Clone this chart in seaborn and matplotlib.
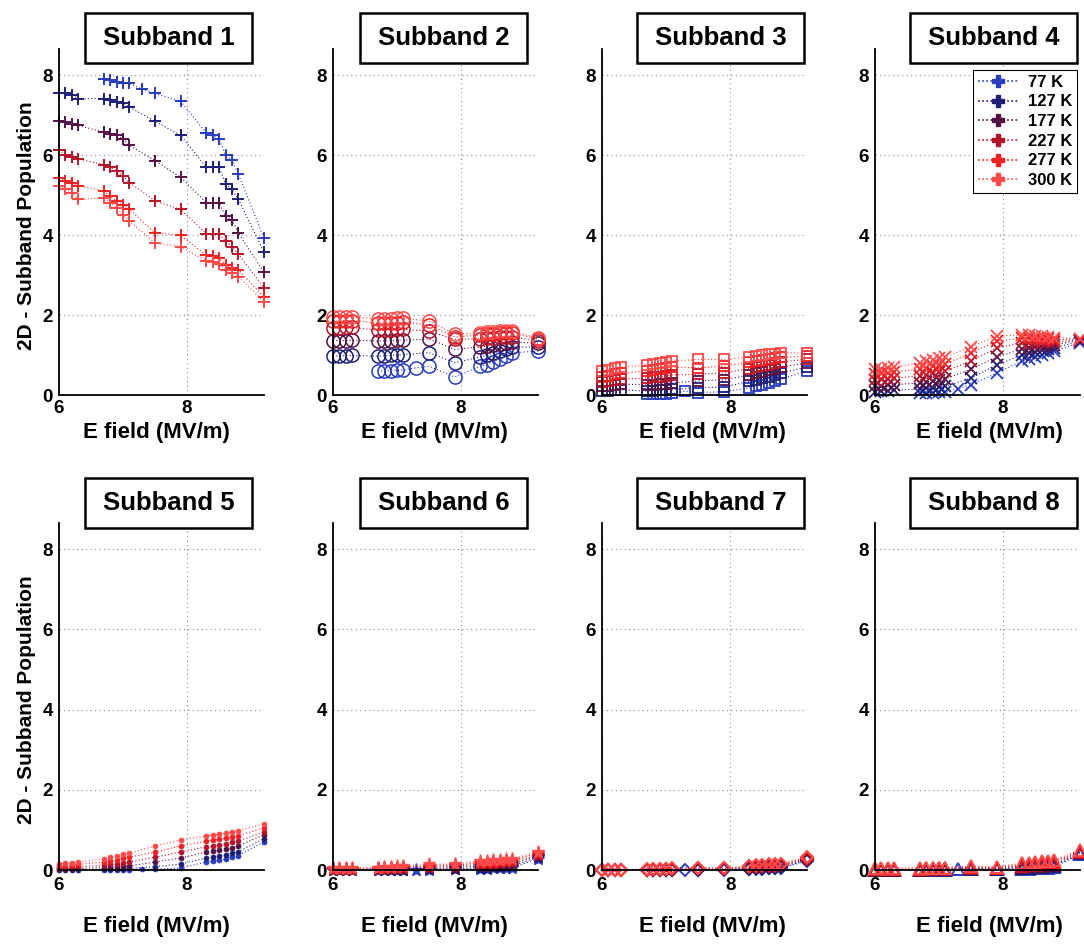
import numpy as np
import matplotlib
matplotlib.use("Agg")
import matplotlib.pyplot as plt
from matplotlib.lines import Line2D
from matplotlib.patches import Rectangle
import seaborn as sns

nan = np.nan

# Applied electric field (MV/m)
e_field = [6.0, 6.1, 6.2, 6.3, 6.7, 6.8, 6.9, 7.0, 7.1, 7.3, 7.5, 7.9,
           8.3, 8.4, 8.5, 8.6, 8.7, 8.8, 9.2]

temperatures = ["77 K", "127 K", "177 K", "227 K", "277 K", "300 K"]
temp_colors = ["#2a3cc0", "#1f1f78", "#521244", "#b5132a", "#f41f22", "#ff4a4a"]

# Population of each subband, one row per temperature (77 K ... 300 K)
subband1 = [
    [nan, nan, nan, nan, 7.89, 7.87, 7.83, 7.81, 7.79, 7.64, 7.54, 7.34, 6.55, 6.49, 6.40, 6.00, 5.87, 5.52, 3.92],
    [7.55, 7.54, 7.50, 7.41, 7.41, 7.37, 7.33, 7.29, 7.20, nan, 6.84, 6.49, 5.69, 5.69, 5.69, 5.27, 5.14, 4.89, 3.57],
    [6.84, 6.82, 6.78, 6.74, 6.57, 6.53, 6.49, 6.40, 6.24, nan, 5.86, 5.44, 4.81, 4.81, 4.80, 4.47, 4.38, 4.05, 3.07],
    [6.13, 6.00, 5.94, 5.90, 5.76, 5.69, 5.60, 5.48, 5.31, nan, 4.85, 4.64, 4.03, 4.03, 4.02, 3.84, 3.71, 3.52, 2.68],
    [5.42, 5.35, 5.31, 5.23, 5.10, 4.97, 4.85, 4.76, 4.64, nan, 4.05, 3.99, 3.49, 3.47, 3.42, 3.25, 3.17, 3.13, 2.45],
    [5.23, 5.14, 5.06, 4.89, 4.93, 4.81, 4.68, 4.51, 4.35, nan, 3.80, 3.71, 3.35, 3.32, 3.27, 3.13, 3.04, 2.96, 2.33],
]
subband2 = [
    [nan, nan, nan, nan, 0.60, 0.60, 0.61, 0.62, 0.63, 0.68, 0.72, 0.45, 0.72, 0.76, 0.82, 0.90, 0.98, 1.05, 1.10],
    [0.97, 0.98, 0.98, 0.99, 0.97, 0.98, 0.99, 1.00, 1.01, nan, 1.06, 0.81, 0.95, 1.00, 1.05, 1.10, 1.15, 1.20, 1.20],
    [1.35, 1.36, 1.36, 1.37, 1.35, 1.36, 1.36, 1.37, 1.37, nan, 1.40, 1.14, 1.20, 1.22, 1.25, 1.28, 1.30, 1.32, 1.30],
    [1.68, 1.68, 1.69, 1.69, 1.62, 1.63, 1.63, 1.64, 1.64, nan, 1.60, 1.39, 1.40, 1.42, 1.43, 1.45, 1.45, 1.46, 1.35],
    [1.85, 1.85, 1.86, 1.86, 1.80, 1.80, 1.81, 1.81, 1.82, nan, 1.75, 1.45, 1.50, 1.52, 1.53, 1.55, 1.55, 1.55, 1.40],
    [1.95, 1.95, 1.96, 1.96, 1.90, 1.91, 1.91, 1.92, 1.92, nan, 1.85, 1.52, 1.55, 1.57, 1.58, 1.60, 1.60, 1.60, 1.42],
]
subband3 = [
    [nan, nan, nan, nan, 0.02, 0.02, 0.03, 0.03, 0.04, 0.10, 0.06, 0.08, 0.18, 0.22, 0.26, 0.30, 0.35, 0.40, 0.60],
    [0.10, 0.11, 0.12, 0.13, 0.10, 0.11, 0.12, 0.13, 0.14, nan, 0.18, 0.20, 0.34, 0.38, 0.42, 0.46, 0.50, 0.55, 0.70],
    [0.22, 0.23, 0.25, 0.27, 0.25, 0.26, 0.27, 0.28, 0.30, nan, 0.35, 0.38, 0.50, 0.54, 0.58, 0.62, 0.66, 0.70, 0.80],
    [0.33, 0.35, 0.37, 0.40, 0.42, 0.44, 0.46, 0.48, 0.50, nan, 0.52, 0.55, 0.66, 0.70, 0.73, 0.76, 0.79, 0.82, 0.90],
    [0.45, 0.48, 0.52, 0.55, 0.60, 0.63, 0.65, 0.68, 0.70, nan, 0.68, 0.72, 0.82, 0.85, 0.88, 0.90, 0.92, 0.94, 0.98],
    [0.60, 0.63, 0.67, 0.70, 0.75, 0.78, 0.80, 0.83, 0.85, nan, 0.89, 0.89, 0.95, 0.97, 1.00, 1.02, 1.03, 1.05, 1.05],
]
subband4 = [
    [nan, nan, nan, nan, 0.04, 0.05, 0.06, 0.07, 0.08, 0.16, 0.25, 0.55, 0.85, 0.90, 0.95, 1.00, 1.05, 1.10, 1.30],
    [0.08, 0.09, 0.10, 0.12, 0.15, 0.17, 0.18, 0.20, 0.22, nan, 0.42, 0.75, 1.00, 1.04, 1.08, 1.12, 1.15, 1.18, 1.34],
    [0.22, 0.23, 0.24, 0.26, 0.30, 0.33, 0.35, 0.38, 0.40, nan, 0.65, 0.95, 1.15, 1.18, 1.20, 1.22, 1.24, 1.26, 1.36],
    [0.38, 0.39, 0.40, 0.42, 0.48, 0.51, 0.54, 0.57, 0.60, nan, 0.85, 1.18, 1.30, 1.31, 1.31, 1.32, 1.32, 1.32, 1.38],
    [0.52, 0.54, 0.56, 0.58, 0.65, 0.68, 0.72, 0.75, 0.78, nan, 1.05, 1.35, 1.42, 1.42, 1.41, 1.40, 1.39, 1.38, 1.40],
    [0.65, 0.66, 0.68, 0.70, 0.80, 0.84, 0.88, 0.92, 0.95, nan, 1.20, 1.48, 1.50, 1.50, 1.48, 1.47, 1.45, 1.43, 1.41],
]
subband5 = [
    [nan, nan, nan, nan, 0.00, 0.00, 0.01, 0.01, 0.01, 0.02, 0.02, 0.05, 0.20, 0.22, 0.25, 0.28, 0.32, 0.36, 0.70],
    [0.01, 0.01, 0.01, 0.01, 0.02, 0.02, 0.03, 0.03, 0.04, nan, 0.08, 0.15, 0.30, 0.32, 0.35, 0.38, 0.42, 0.46, 0.78],
    [0.03, 0.03, 0.03, 0.04, 0.06, 0.07, 0.08, 0.09, 0.10, nan, 0.20, 0.30, 0.45, 0.47, 0.50, 0.53, 0.56, 0.60, 0.88],
    [0.06, 0.06, 0.07, 0.08, 0.12, 0.14, 0.16, 0.18, 0.20, nan, 0.32, 0.45, 0.58, 0.60, 0.63, 0.66, 0.69, 0.72, 0.95],
    [0.10, 0.11, 0.12, 0.14, 0.20, 0.23, 0.26, 0.29, 0.32, nan, 0.45, 0.60, 0.72, 0.74, 0.77, 0.80, 0.83, 0.86, 1.05],
    [0.15, 0.17, 0.18, 0.20, 0.28, 0.32, 0.35, 0.39, 0.42, nan, 0.60, 0.75, 0.85, 0.87, 0.89, 0.92, 0.95, 0.98, 1.15],
]
subband6 = [
    [nan, nan, nan, nan, 0.00, 0.00, 0.00, 0.00, 0.00, 0.00, 0.01, 0.02, 0.02, 0.03, 0.04, 0.05, 0.05, 0.06, 0.28],
    [0.00, 0.00, 0.00, 0.00, 0.01, 0.01, 0.01, 0.01, 0.01, nan, 0.02, 0.03, 0.05, 0.06, 0.07, 0.08, 0.09, 0.10, 0.32],
    [0.01, 0.01, 0.01, 0.01, 0.02, 0.02, 0.02, 0.02, 0.03, nan, 0.04, 0.06, 0.10, 0.11, 0.12, 0.13, 0.14, 0.15, 0.35],
    [0.02, 0.02, 0.02, 0.02, 0.03, 0.03, 0.04, 0.04, 0.04, nan, 0.07, 0.09, 0.14, 0.15, 0.16, 0.18, 0.19, 0.20, 0.38],
    [0.03, 0.03, 0.03, 0.03, 0.05, 0.05, 0.06, 0.06, 0.07, nan, 0.10, 0.12, 0.18, 0.19, 0.20, 0.22, 0.23, 0.24, 0.42],
    [0.04, 0.04, 0.05, 0.05, 0.06, 0.07, 0.08, 0.09, 0.10, nan, 0.14, 0.15, 0.22, 0.23, 0.25, 0.26, 0.27, 0.28, 0.45],
]
subband7 = [
    [nan, nan, nan, nan, 0.00, 0.00, 0.00, 0.00, 0.00, 0.01, 0.01, 0.01, 0.02, 0.02, 0.03, 0.04, 0.04, 0.05, 0.22],
    [0.00, 0.00, 0.00, 0.00, 0.00, 0.00, 0.00, 0.00, 0.01, nan, 0.01, 0.02, 0.03, 0.04, 0.04, 0.05, 0.06, 0.07, 0.24],
    [0.00, 0.00, 0.00, 0.00, 0.01, 0.01, 0.01, 0.01, 0.01, nan, 0.02, 0.02, 0.05, 0.06, 0.07, 0.08, 0.09, 0.10, 0.26],
    [0.00, 0.00, 0.00, 0.01, 0.01, 0.01, 0.01, 0.02, 0.02, nan, 0.03, 0.03, 0.07, 0.08, 0.09, 0.10, 0.11, 0.12, 0.28],
    [0.00, 0.00, 0.01, 0.01, 0.01, 0.02, 0.02, 0.02, 0.03, nan, 0.04, 0.04, 0.09, 0.10, 0.11, 0.12, 0.13, 0.14, 0.30],
    [0.01, 0.01, 0.01, 0.01, 0.02, 0.02, 0.03, 0.03, 0.04, nan, 0.06, 0.05, 0.11, 0.12, 0.13, 0.14, 0.15, 0.16, 0.32],
]
subband8 = [
    [nan, nan, nan, nan, 0.00, 0.00, 0.00, 0.00, 0.00, 0.02, 0.02, 0.02, 0.02, 0.03, 0.04, 0.05, 0.06, 0.07, 0.40],
    [0.00, 0.00, 0.00, 0.00, 0.01, 0.01, 0.01, 0.01, 0.01, nan, 0.03, 0.03, 0.05, 0.06, 0.07, 0.08, 0.09, 0.10, 0.42],
    [0.01, 0.01, 0.01, 0.01, 0.01, 0.02, 0.02, 0.02, 0.02, nan, 0.04, 0.04, 0.08, 0.09, 0.10, 0.11, 0.12, 0.13, 0.44],
    [0.02, 0.02, 0.02, 0.02, 0.02, 0.03, 0.03, 0.03, 0.03, nan, 0.06, 0.05, 0.11, 0.12, 0.13, 0.14, 0.15, 0.17, 0.46],
    [0.03, 0.03, 0.03, 0.03, 0.03, 0.04, 0.04, 0.04, 0.05, nan, 0.08, 0.06, 0.14, 0.15, 0.16, 0.18, 0.19, 0.21, 0.48],
    [0.05, 0.05, 0.05, 0.05, 0.05, 0.05, 0.06, 0.06, 0.06, nan, 0.10, 0.08, 0.17, 0.18, 0.20, 0.22, 0.23, 0.25, 0.50],
]

subbands = [subband1, subband2, subband3, subband4,
            subband5, subband6, subband7, subband8]
# marker, size, edge width, hollow?
marker_styles = [("+", 9.0, 1.4, False), ("o", 9.5, 1.1, True),
                 ("s", 7.0, 1.3, True), ("x", 8.0, 1.3, False),
                 ("o", 3.6, 0.5, False), ("*", 9.5, 1.0, False),
                 ("D", 6.0, 1.4, True), ("^", 8.0, 1.4, True)]

sns.set_theme(style="white")
plt.rcParams["font.family"] = ["Liberation Sans", "DejaVu Sans"]
plt.rcParams["font.weight"] = "bold"
plt.rcParams["axes.labelweight"] = "bold"
plt.rcParams["text.color"] = "black"
plt.rcParams["axes.labelcolor"] = "black"
plt.rcParams["xtick.color"] = "black"
plt.rcParams["ytick.color"] = "black"

W, H = 1084, 946
fig = plt.figure(figsize=(W / 100, H / 100), dpi=100)
fig.patch.set_facecolor("white")

col_left = [59, 333, 602, 875]
row_top = [49, 523]
row_bottom = [395, 870]
ax_width = 205
title_x = [0.535, 0.540, 0.578, 0.578]
xlabel_x = [0.473, 0.493, 0.537, 0.560]
title_y = [1.032, 1.058]
xlabel_y = [-0.108, -0.164]
xtick_pad = [3.8, 5.0]

for idx, (values, (mk, ms, mew, hollow)) in enumerate(zip(subbands, marker_styles)):
    r, c = divmod(idx, 4)
    h = row_bottom[r] - row_top[r]
    ax = fig.add_axes([col_left[c] / W, (H - row_bottom[r]) / H, ax_width / W, h / H])
    ax.set_facecolor("white")

    for temp, color, ys in zip(temperatures, temp_colors, values):
        sns.lineplot(x=e_field, y=ys, ax=ax, color=color, linestyle=(0, (1, 2)),
                     linewidth=0.8, marker=mk, markersize=ms,
                     mec=color, mew=mew, mfc="none" if hollow else color,
                     estimator=None, sort=False, legend=False, clip_on=False)

    ax.set_xlim(6, 9.2)
    ax.set_ylim(0, 8.65)
    ax.set_xticks([6, 8])
    ax.set_yticks([0, 2, 4, 6, 8])
    ax.tick_params(axis="both", direction="in", length=4, width=1,
                   labelsize=13.5, colors="black")
    ax.tick_params(axis="x", pad=xtick_pad[r])
    ax.tick_params(axis="y", pad=4.5)
    for lab in ax.get_xticklabels() + ax.get_yticklabels():
        lab.set_fontweight("bold")
    ax.grid(True, linestyle=(0, (1, 3)), color="#8a8aa0", linewidth=0.8)
    for side in ("top", "right"):
        ax.spines[side].set_visible(False)
    for side in ("left", "bottom"):
        ax.spines[side].set_color("black")
        ax.spines[side].set_linewidth(1.3)
        ax.spines[side].set_zorder(5)

    ax.set_xlabel("E field (MV/m)", fontsize=16, fontweight="bold")
    ax.xaxis.set_label_coords(xlabel_x[c], xlabel_y[r])
    ax.xaxis.label.set_va("center")
    if c == 0:
        ax.set_ylabel("2D - Subband Population", fontsize=15, fontweight="bold")
        ax.yaxis.set_label_coords(-0.160, 0.49)
        ax.yaxis.label.set_va("center")
    else:
        ax.set_ylabel("")

    # boxed panel title
    bw, bh = 167 / ax_width, 50 / h
    ax.add_patch(Rectangle((title_x[c] - bw / 2, title_y[r] - bh / 2), bw, bh,
                           transform=ax.transAxes, facecolor="white",
                           edgecolor="black", linewidth=1.8, clip_on=False, zorder=10))
    ax.text(title_x[c], title_y[r], f"Subband {idx + 1}", transform=ax.transAxes,
            ha="center", va="center", fontsize=18.5, fontweight="bold",
            zorder=11, clip_on=False)

    if idx == 3:
        handles = [Line2D([0], [0], color=col, linestyle=(0, (1, 1.5)), linewidth=1.2,
                          marker="P", markersize=8.5, mec=col, mfc=col)
                   for col in temp_colors]
        leg = ax.legend(handles, temperatures, loc="upper left",
                        bbox_to_anchor=(0.478, 0.94), frameon=True, fancybox=False,
                        framealpha=1, edgecolor="black", fontsize=12,
                        labelspacing=0.28, handlelength=2.4, handletextpad=0.6,
                        borderpad=0.3, borderaxespad=0)
        leg.get_frame().set_linewidth(0.8)
        leg.set_zorder(12)
        for t in leg.get_texts():
            t.set_fontweight("bold")

fig.savefig("out.png", dpi=100, facecolor="white")
